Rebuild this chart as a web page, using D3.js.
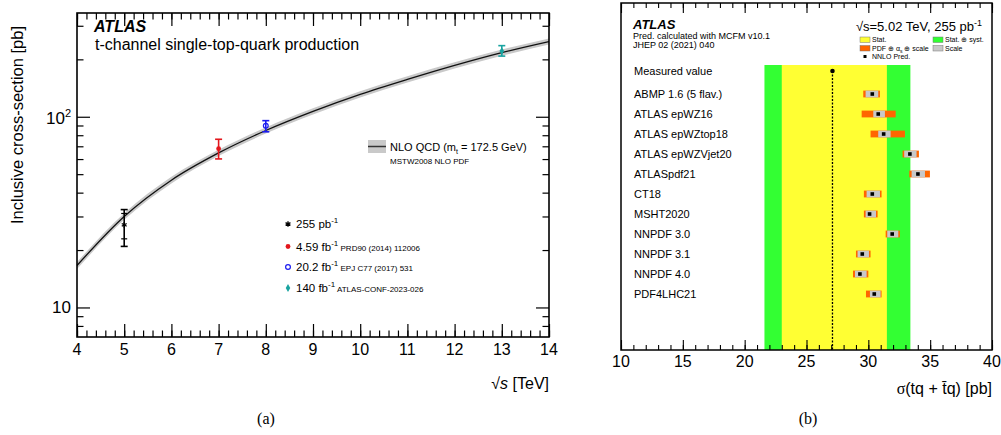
<!DOCTYPE html>
<html><head><meta charset="utf-8">
<script src="https://cdn.jsdelivr.net/npm/d3@7"></script>
<style>
body{margin:0;background:#fff}
text{font-family:"Liberation Sans",Arial,sans-serif;fill:#000}
.tick text{font-family:"Liberation Sans",Arial,sans-serif}
</style></head><body>
<svg width="1001" height="435"></svg>
<script>
// ---- panel (a): measurements ----
var energies = [5, 7, 8, 13];
var xsec = [27.1, 68, 89.6, 221];
var totUp = [32.6, 76.2, 95.4, 236];
var totDown = [20.9, 60.1, 83.4, 208];
var statUp = [31.1, null, null, null];
var statDown = [22.9, null, null, null];
var lumiLabels = ["255 pb", "4.59 fb", "20.2 fb", "140 fb"];
var refLabels = ["", "PRD90 (2014) 112006", "EPJ C77 (2017) 531", "ATLAS-CONF-2023-026"];
var pointColors = ["#000000", "#e3161c", "#1b1bf0", "#19a3a0"];

// NLO QCD prediction
var nloE = [4, 5, 6, 7, 8, 9, 10, 11, 12, 13, 14];
var nloV = [16.6, 30.0, 46.5, 64.6, 84.7, 106.7, 131, 157, 186, 217, 248];
var nloLo = [15.9, 28.8, 44.7, 62.2, 81.6, 102.8, 126, 151, 179, 209, 239];
var nloHi = [17.3, 31.2, 48.4, 67.1, 87.9, 110.7, 136, 163, 193, 225, 257];

var xTicksA = [4, 5, 6, 7, 8, 9, 10, 11, 12, 13, 14];

// ---- panel (b): PDF comparison ----
var pdfSets = ["ABMP 1.6 (5 flav.)", "ATLAS epWZ16", "ATLAS epWZtop18", "ATLAS epWZVjet20",
  "ATLASpdf21", "CT18", "MSHT2020", "NNPDF 3.0", "NNPDF 3.1", "NNPDF 4.0", "PDF4LHC21"];
var pdfCentral = [30.32, 30.80, 31.24, 33.36, 34.01, 30.32, 30.10, 31.93, 29.51, 29.32, 30.48];
var pdfLo = [29.59, 29.46, 30.18, 32.77, 33.31, 29.64, 29.64, 31.40, 29.00, 28.76, 29.81];
var pdfHi = [30.94, 32.21, 32.96, 34.09, 34.98, 31.07, 30.75, 32.55, 30.18, 30.00, 31.07];
var scaleLo = [29.78, 30.40, 30.80, 32.90, 33.50, 29.86, 29.78, 31.53, 29.13, 28.92, 30.13];
var scaleHi = [30.80, 31.34, 31.80, 33.90, 34.58, 30.94, 30.62, 32.42, 30.05, 29.86, 30.99];
var measured = 27.1;
var measStat = [23.0, 31.5];
var measTot = [21.6, 33.4];
var xTicksB = [10, 15, 20, 25, 30, 35, 40];

var svg = d3.select("svg");

// ================= panel (a) =================
var xA = d3.scaleLinear().domain([4, 14]).range([77, 549]);
var yA = d3.scaleLog().domain([7, 350]).range([337, 13]);

var gA = svg.append("g");

// band + curve
var bandData = nloE.map(function(e, i) { return {e: e, lo: nloLo[i], hi: nloHi[i], v: nloV[i]}; });
gA.append("path")
    .datum(bandData)
    .attr("fill", "#c9c9c9")
    .attr("d", d3.area()
      .curve(d3.curveMonotoneX)
      .x(function(d) { return xA(d.e); })
      .y0(function(d) { return yA(d.lo); })
      .y1(function(d) { return yA(d.hi); }));
gA.append("path")
    .datum(bandData)
    .attr("fill", "none")
    .attr("stroke", "#111")
    .attr("stroke-width", 1.3)
    .attr("d", d3.line()
      .curve(d3.curveMonotoneX)
      .x(function(d) { return xA(d.e); })
      .y(function(d) { return yA(d.v); }));

// axes ticks (inward, on all four sides)
var minorX = d3.range(40, 141, 2).map(function(v) { return v / 10; });
var majorY = [10, 100];
var minorY = [8, 9, 20, 30, 40, 50, 60, 70, 80, 90, 200, 300];

function ticksA(axisFn, scale, vals, size, transform) {
  gA.append("g")
      .attr("transform", transform)
      .call(axisFn(scale).tickValues(vals).tickSize(size).tickFormat(""))
      .call(function(g) { g.select(".domain").remove(); })
      .selectAll("line").attr("stroke", "#000").attr("stroke-width", 1.2);
}
ticksA(d3.axisBottom, xA, minorX, -6.5, "translate(0,337)");
ticksA(d3.axisBottom, xA, xTicksA, -13, "translate(0,337)");
ticksA(d3.axisTop, xA, minorX, -6.5, "translate(0,13)");
ticksA(d3.axisTop, xA, xTicksA, -13, "translate(0,13)");
ticksA(d3.axisLeft, yA, minorY, -6.5, "translate(77,0)");
ticksA(d3.axisLeft, yA, majorY, -13, "translate(77,0)");
ticksA(d3.axisRight, yA, minorY, -6.5, "translate(549,0)");
ticksA(d3.axisRight, yA, majorY, -13, "translate(549,0)");

gA.append("rect")
    .attr("x", 77).attr("y", 13).attr("width", 472).attr("height", 324)
    .attr("fill", "none").attr("stroke", "#000").attr("stroke-width", 1.6);

// tick labels
gA.selectAll(".xl").data(xTicksA).enter().append("text")
    .attr("x", function(d) { return xA(d); })
    .attr("y", 355)
    .attr("text-anchor", "middle")
    .style("font-size", "16px")
    .text(function(d) { return d; });

var yl = gA.append("text").attr("x", 71).attr("y", yA(100) + 7).attr("text-anchor", "end").style("font-size", "17px");
yl.append("tspan").text("10");
yl.append("tspan").attr("dy", -7).style("font-size", "11px").text("2");
gA.append("text").attr("x", 71).attr("y", yA(10) + 6).attr("text-anchor", "end").style("font-size", "17px").text("10");

// axis titles
gA.append("text")
    .attr("transform", "translate(23,125) rotate(-90)")
    .attr("text-anchor", "middle")
    .style("font-size", "16.5px")
    .text("Inclusive cross-section [pb]");
var xt = gA.append("text").attr("x", 549).attr("y", 389).attr("text-anchor", "end").style("font-size", "16px");
xt.append("tspan").text("\u221A");
xt.append("tspan").style("font-style", "italic").text("s");
xt.append("tspan").text(" [TeV]");

gA.append("text").attr("x", 94).attr("y", 32)
    .style("font-size", "16px").style("font-weight", "bold").style("font-style", "italic").text("ATLAS");
gA.append("text").attr("x", 95).attr("y", 50).style("font-size", "16px").text("t-channel single-top-quark production");

// markers
function marker(g, i, x, y) {
  var c = pointColors[i];
  if (i === 0) {
    g.append("path").attr("transform", "translate(" + x + "," + y + ")")
      .attr("d", d3.symbol(d3.symbolAsterisk, 22)()).attr("stroke", c).attr("stroke-width", 1.3).attr("fill", "none");
  } else if (i === 1) {
    g.append("circle").attr("cx", x).attr("cy", y).attr("r", 2.4).attr("fill", c);
  } else if (i === 2) {
    g.append("circle").attr("cx", x).attr("cy", y).attr("r", 2.4).attr("fill", "none").attr("stroke", c).attr("stroke-width", 1.2);
  } else {
    g.append("path").attr("transform", "translate(" + x + "," + y + ")")
      .attr("d", d3.symbol(d3.symbolDiamond, 18)()).attr("fill", c);
  }
}

// data points with error bars
energies.forEach(function(e, i) {
  var x = xA(e), c = pointColors[i];
  var g = gA.append("g");
  g.append("line").attr("x1", x).attr("x2", x).attr("y1", yA(totUp[i])).attr("y2", yA(totDown[i]))
    .attr("stroke", c).attr("stroke-width", 1.6);
  [totUp[i], totDown[i]].forEach(function(v) {
    g.append("line").attr("x1", x - 3.5).attr("x2", x + 3.5).attr("y1", yA(v)).attr("y2", yA(v))
      .attr("stroke", c).attr("stroke-width", 1.6);
  });
  if (statUp[i] != null) {
    [statUp[i], statDown[i]].forEach(function(v) {
      g.append("line").attr("x1", x - 3).attr("x2", x + 3).attr("y1", yA(v)).attr("y2", yA(v))
        .attr("stroke", c).attr("stroke-width", 1.2);
    });
  }
  marker(g, i, x, yA(xsec[i]));
});

// NLO legend
gA.append("rect").attr("x", 368).attr("y", 140).attr("width", 18).attr("height", 13).attr("fill", "#c9c9c9");
gA.append("line").attr("x1", 368).attr("x2", 386).attr("y1", 146.5).attr("y2", 146.5).attr("stroke", "#333").attr("stroke-width", 1.5);
var nl = gA.append("text").attr("x", 390).attr("y", 151).style("font-size", "11px");
nl.append("tspan").text("NLO QCD (m");
nl.append("tspan").attr("dy", 3).style("font-size", "7px").text("t");
nl.append("tspan").attr("dy", -3).text(" = 172.5 GeV)");
gA.append("text").attr("x", 390).attr("y", 164).style("font-size", "8px").text("MSTW2008 NLO PDF");

// data legend
var legY = [224, 246.5, 267, 288];
lumiLabels.forEach(function(l, i) {
  marker(gA, i, 288, legY[i]);
  var t = gA.append("text").attr("x", 296).attr("y", legY[i] + 4).style("font-size", "11.5px");
  t.append("tspan").text(l);
  t.append("tspan").attr("dy", -5).style("font-size", "8px").text("-1");
  t.append("tspan").attr("dy", 5).style("font-size", "8px").text(" " + refLabels[i]);
});

svg.append("text").attr("x", 266).attr("y", 424).attr("text-anchor", "middle")
    .style("font-family", "'Liberation Serif',serif").style("font-size", "16px").text("(a)");

// ================= panel (b) =================
var xB = d3.scaleLinear().domain([10, 40]).range([621, 992]);
var yB = d3.scalePoint().domain(pdfSets).range([94, 294]);
var yMeas = 71;
var gB = svg.append("g");

// measurement bands
gB.append("rect").attr("x", xB(measTot[0])).attr("y", 65).attr("width", xB(measTot[1]) - xB(measTot[0])).attr("height", 285).attr("fill", "#33ff33");
gB.append("rect").attr("x", xB(measStat[0])).attr("y", 65).attr("width", xB(measStat[1]) - xB(measStat[0])).attr("height", 285).attr("fill", "#ffff33");
gB.append("line").attr("x1", xB(measured)).attr("x2", xB(measured)).attr("y1", yMeas).attr("y2", 350)
    .attr("stroke", "#000").attr("stroke-width", 1.3).attr("stroke-dasharray", "2,1.5");
gB.append("circle").attr("cx", xB(measured)).attr("cy", yMeas).attr("r", 2.3).attr("fill", "#000");

// predictions
var rows = gB.selectAll(".pdf").data(pdfSets).enter().append("g");
rows.append("rect")
    .attr("x", function(d, i) { return xB(pdfLo[i]); })
    .attr("y", function(d) { return yB(d) - 3.4; })
    .attr("width", function(d, i) { return xB(pdfHi[i]) - xB(pdfLo[i]); })
    .attr("height", 6.8).attr("fill", "#ff6600");
rows.append("rect")
    .attr("x", function(d, i) { return xB(scaleLo[i]); })
    .attr("y", function(d) { return yB(d) - 3.4; })
    .attr("width", function(d, i) { return xB(scaleHi[i]) - xB(scaleLo[i]); })
    .attr("height", 6.8).attr("fill", "#c8c8c8");
rows.append("rect")
    .attr("x", function(d, i) { return xB(pdfCentral[i]) - 1.8; })
    .attr("y", function(d) { return yB(d) - 1.8; })
    .attr("width", 3.6).attr("height", 3.6).attr("fill", "#000");
rows.append("text")
    .attr("x", 634).attr("y", function(d) { return yB(d) + 4; })
    .style("font-size", "11px")
    .text(function(d) { return d; });
gB.append("text").attr("x", 634).attr("y", yMeas + 4).style("font-size", "11px").text("Measured value");

// ticks
var minorB = d3.range(10, 41, 1);
function ticksB(axisFn, vals, size, y) {
  gB.append("g").attr("transform", "translate(0," + y + ")")
      .call(axisFn(xB).tickValues(vals).tickSize(size).tickFormat(""))
      .call(function(g) { g.select(".domain").remove(); })
      .selectAll("line").attr("stroke", "#000").attr("stroke-width", 1.1);
}
ticksB(d3.axisBottom, minorB, -5, 350);
ticksB(d3.axisBottom, xTicksB, -10, 350);
ticksB(d3.axisTop, minorB, -5, 3);
ticksB(d3.axisTop, xTicksB, -10, 3);
gB.append("rect").attr("x", 621).attr("y", 3).attr("width", 371).attr("height", 347)
    .attr("fill", "none").attr("stroke", "#000").attr("stroke-width", 1.5);

gB.selectAll(".xl").data(xTicksB).enter().append("text")
    .attr("x", function(d) { return xB(d); })
    .attr("y", 367)
    .attr("text-anchor", "middle")
    .style("font-size", "16px")
    .text(function(d) { return d; });
var xtb = gB.append("text").attr("x", 992).attr("y", 394).attr("text-anchor", "end").style("font-size", "16px");
xtb.append("tspan").style("font-family", "'Liberation Serif',serif").text("\u03C3");
xtb.append("tspan").text("(tq + t\u0304q) [pb]");

// header
gB.append("text").attr("x", 633).attr("y", 29).style("font-size", "13px").style("font-weight", "bold").style("font-style", "italic").text("ATLAS");
gB.append("text").attr("x", 633).attr("y", 39).style("font-size", "9px").text("Pred. calculated with MCFM v10.1");
gB.append("text").attr("x", 633).attr("y", 48).style("font-size", "9px").text("JHEP 02 (2021) 040");
var hd = gB.append("text").attr("x", 982).attr("y", 31).attr("text-anchor", "end").style("font-size", "13px");
hd.append("tspan").text("\u221As=5.02 TeV, 255 pb");
hd.append("tspan").attr("dy", -5).style("font-size", "9px").text("-1");

// small legend
var legItems = [
  {x: 860, y: 37, c: "#ffff33", t: "Stat."},
  {x: 933, y: 37, c: "#33ff33", t: "Stat. \u2295 syst."},
  {x: 860, y: 45.5, c: "#ff6600", t: null},
  {x: 933, y: 45.5, c: "#c8c8c8", t: "Scale"}
];
legItems.forEach(function(d) {
  gB.append("rect").attr("x", d.x).attr("y", d.y).attr("width", 10).attr("height", 5.5)
    .attr("fill", d.c).attr("stroke", "#777").attr("stroke-width", 0.5);
  if (d.t) gB.append("text").attr("x", d.x + 12).attr("y", d.y + 5).style("font-size", "7px").text(d.t);
});
var pl = gB.append("text").attr("x", 872).attr("y", 50.5).style("font-size", "7px");
pl.append("tspan").text("PDF \u2295 \u03B1");
pl.append("tspan").attr("dy", 2).style("font-size", "5px").text("s");
pl.append("tspan").attr("dy", -2).text(" \u2295 scale");
gB.append("rect").attr("x", 863.5).attr("y", 55).attr("width", 3).attr("height", 3).attr("fill", "#000");
gB.append("text").attr("x", 872).attr("y", 59).style("font-size", "7px").text("NNLO Pred.");

svg.append("text").attr("x", 808).attr("y", 424).attr("text-anchor", "middle")
    .style("font-family", "'Liberation Serif',serif").style("font-size", "16px").text("(b)");
</script>
</body></html>
